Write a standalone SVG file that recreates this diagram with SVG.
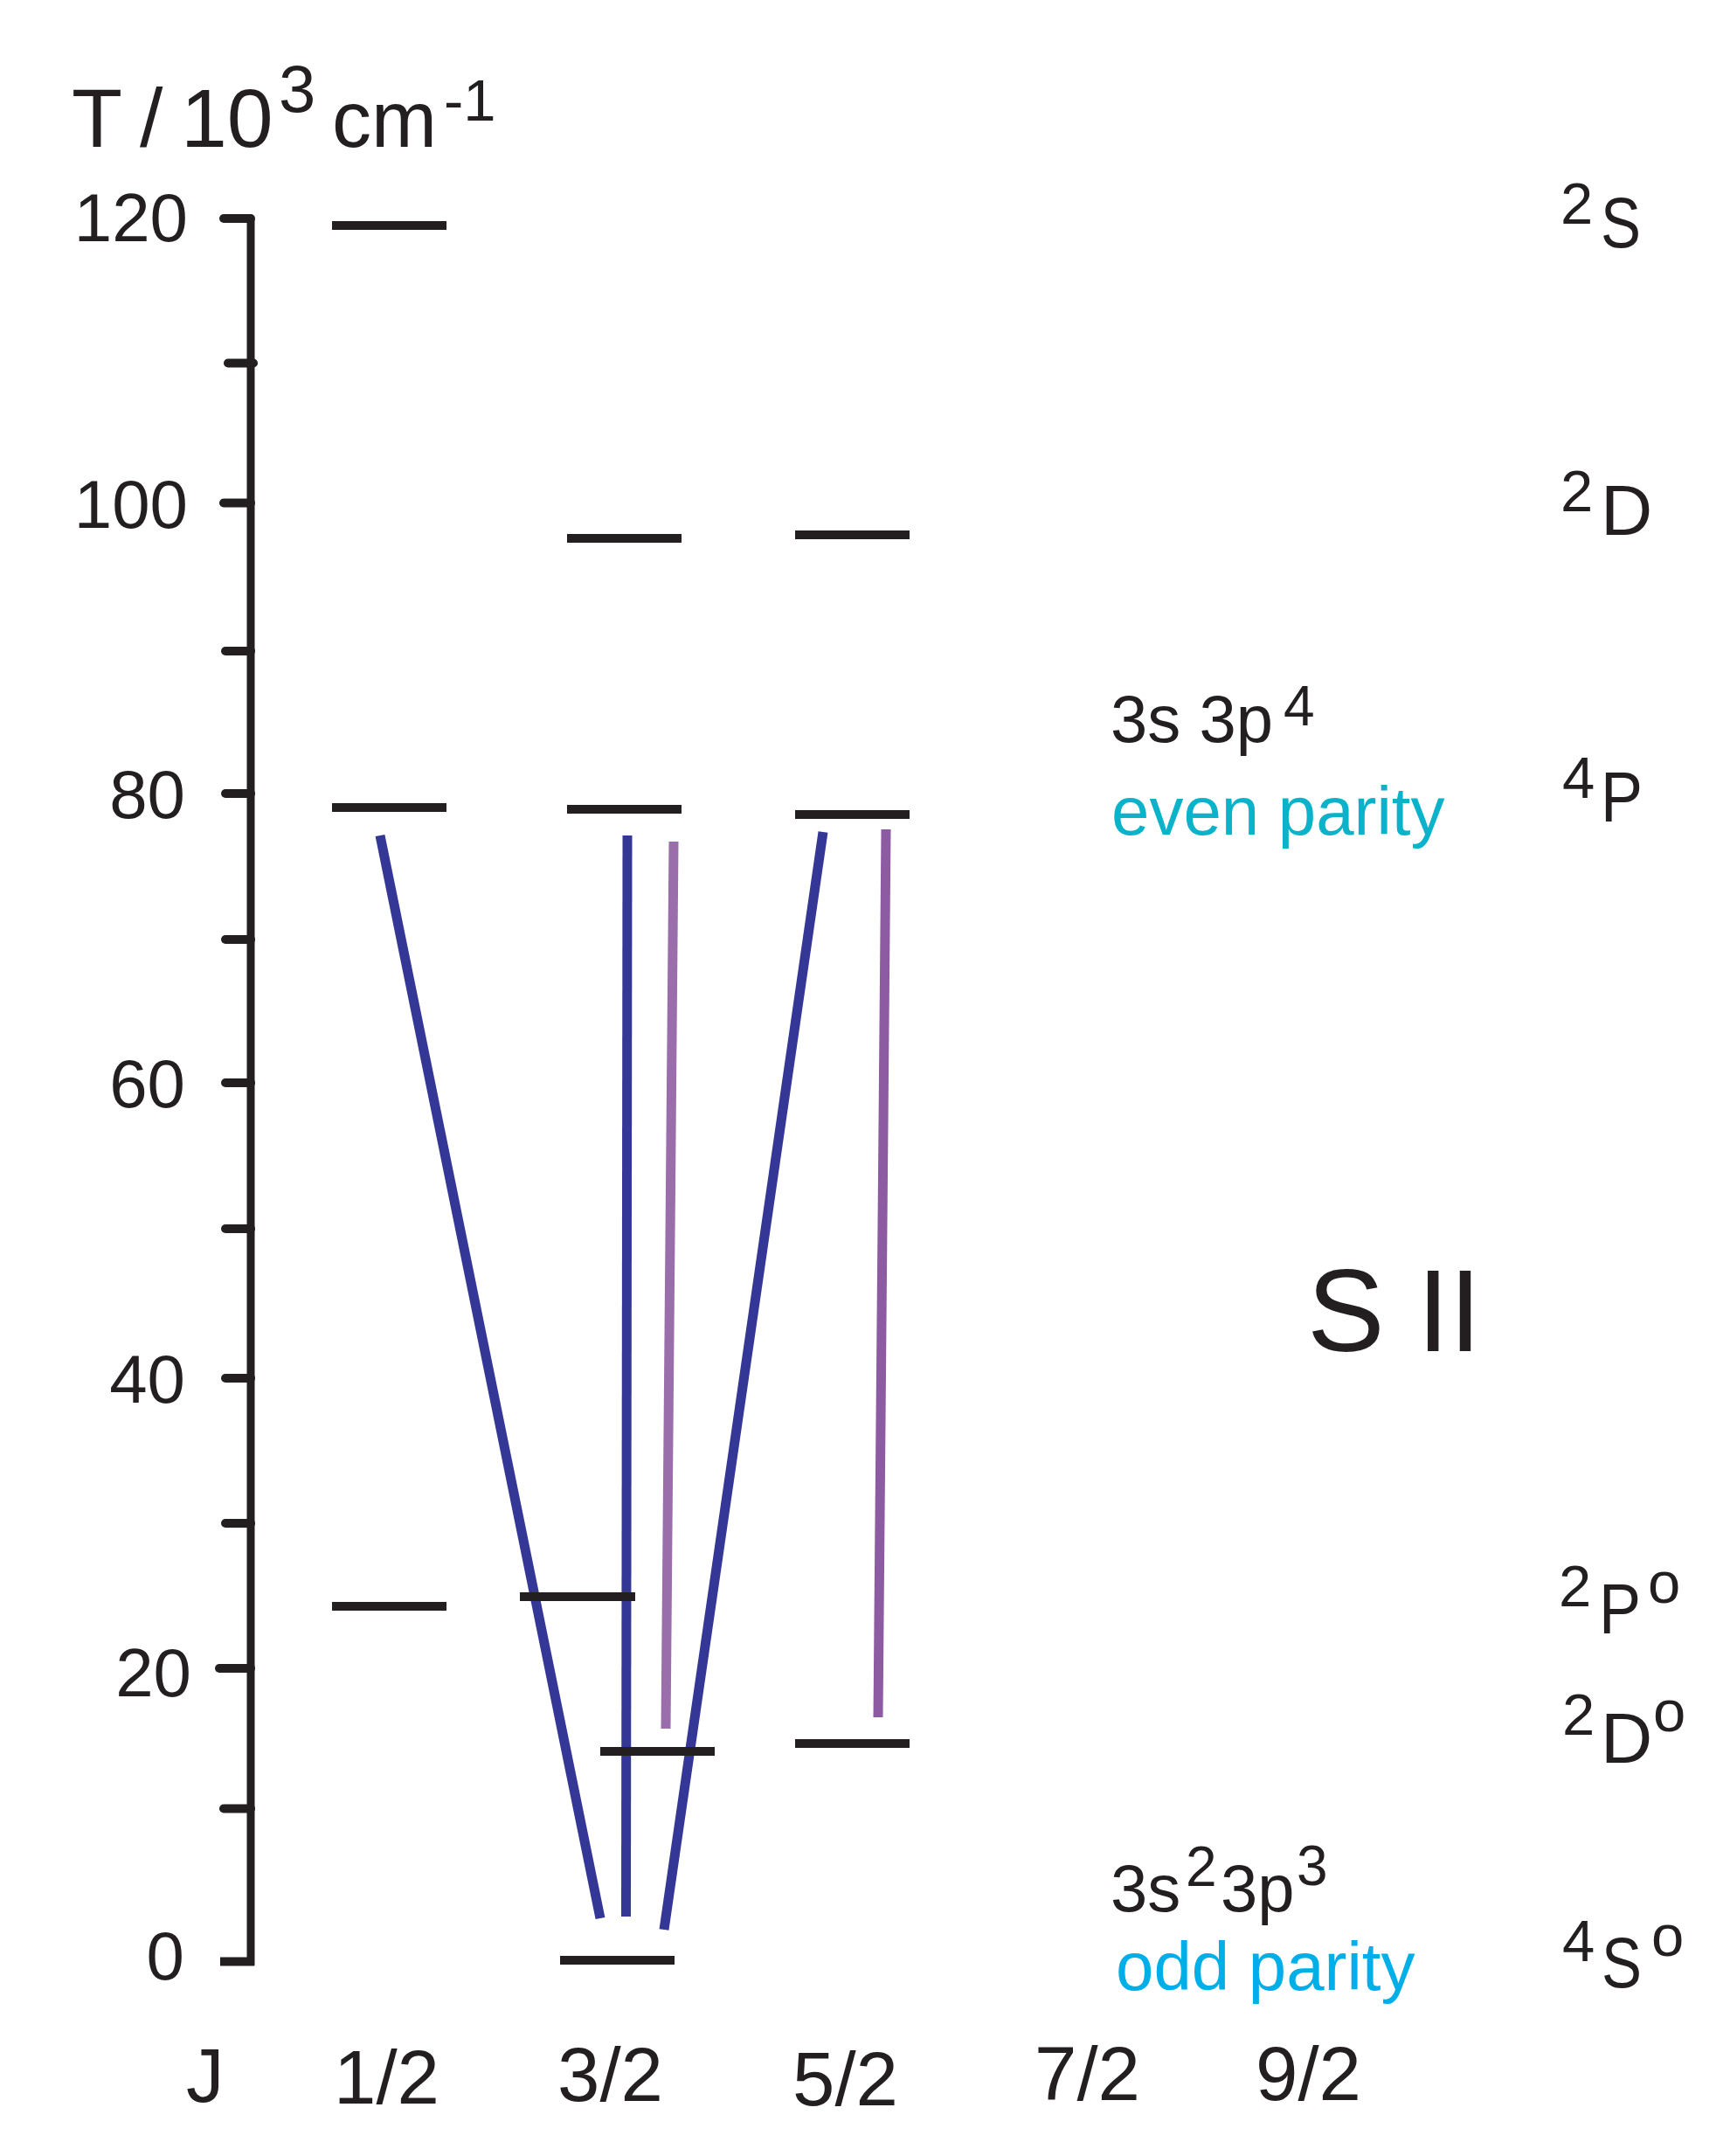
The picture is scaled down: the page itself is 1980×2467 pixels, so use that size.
<svg xmlns="http://www.w3.org/2000/svg" width="1980" height="2467" viewBox="0 0 1980 2467">
<style>
text{font-family:"Liberation Sans",Arial,Helvetica,sans-serif;fill:#231f20}
.tl{font-size:78px;text-anchor:end}
.j{font-size:87px}
.lvl{stroke:#231f20;stroke-width:10;fill:none}
.ax{stroke:#231f20;stroke-width:9;fill:none}
.tk{stroke:#231f20;stroke-width:10;stroke-linecap:round}
.blue{stroke:#343796;stroke-width:11;fill:none}
.pl{stroke:#9a6dab;stroke-width:11;fill:none}
.pd{stroke:#8d5ba1;stroke-width:11;fill:none}
.big{font-size:82px}
.sup{font-size:67px}
.cfg{font-size:76px}
.cfgs{font-size:64px}
</style>
<rect width="1980" height="2467" fill="#ffffff"/>
<g id="axis-title">
<text x="82" y="168" font-size="95">T</text>
<text x="160" y="168" font-size="95">/</text>
<text x="207" y="168" font-size="95">10</text>
<text x="319" y="128" font-size="76">3</text>
<text x="380" y="168" font-size="90">cm</text>
<text x="508" y="138" font-size="67">-1</text>
</g>
<g id="axis">
<path class="ax" d="M287 250 L287 2249"/>
<line class="tk" x1="256" y1="250" x2="287" y2="250"/>
<line class="tk" x1="261" y1="415.5" x2="290" y2="415.5"/>
<line class="tk" x1="256" y1="575.5" x2="287" y2="575.5"/>
<line class="tk" x1="258" y1="745" x2="287" y2="745"/>
<line class="tk" x1="258" y1="908" x2="287" y2="908"/>
<line class="tk" x1="258" y1="1075" x2="287" y2="1075"/>
<line class="tk" x1="258" y1="1239" x2="287" y2="1239"/>
<line class="tk" x1="258" y1="1406" x2="287" y2="1406"/>
<line class="tk" x1="258" y1="1577" x2="287" y2="1577"/>
<line class="tk" x1="258" y1="1743" x2="287" y2="1743"/>
<line class="tk" x1="251" y1="1909" x2="287" y2="1909"/>
<line class="tk" x1="256" y1="2069.5" x2="287" y2="2069.5"/>
<line stroke="#231f20" stroke-width="10" x1="252" y1="2244.5" x2="291" y2="2244.5"/>
<text class="tl" x="215" y="276">120</text>
<text class="tl" x="215" y="604">100</text>
<text class="tl" x="212" y="936">80</text>
<text class="tl" x="212" y="1267">60</text>
<text class="tl" x="212" y="1605">40</text>
<text class="tl" x="219" y="1941">20</text>
<text class="tl" x="211" y="2265">0</text>
</g>
<g id="j-labels">
<text class="j" x="213" y="2405">J</text>
<text class="j" x="382" y="2407">1/2</text>
<text class="j" x="638" y="2404">3/2</text>
<text class="j" x="907" y="2409">5/2</text>
<text class="j" x="1184" y="2403">7/2</text>
<text class="j" x="1437" y="2403">9/2</text>
</g>
<g id="transitions">
<line class="blue" x1="435" y1="956" x2="687" y2="2195"/>
<line class="blue" x1="718" y1="956" x2="716.5" y2="2193"/>
<line class="blue" x1="942" y1="952" x2="760" y2="2208"/>
<line class="pl" x1="771" y1="963" x2="762" y2="1978"/>
<line class="pd" x1="1014" y1="949" x2="1005" y2="1965"/>
</g>
<g id="level-2S-J1_2"><line class="lvl" x1="380" y1="258" x2="511" y2="258"/></g>
<g id="level-4P-J1_2"><line class="lvl" x1="380" y1="924" x2="511" y2="924"/></g>
<g id="level-2Po-J1_2"><line class="lvl" x1="380" y1="1838" x2="511" y2="1838"/></g>
<g id="level-2D-J3_2"><line class="lvl" x1="649" y1="616" x2="780" y2="616"/></g>
<g id="level-4P-J3_2"><line class="lvl" x1="649" y1="926" x2="780" y2="926"/></g>
<g id="level-2Po-J3_2"><line class="lvl" x1="595" y1="1827" x2="727" y2="1827"/></g>
<g id="level-2Do-J3_2"><line class="lvl" x1="687" y1="2004" x2="818" y2="2004"/></g>
<g id="level-4So-J3_2"><line class="lvl" x1="641" y1="2243" x2="772" y2="2243"/></g>
<g id="level-2D-J5_2"><line class="lvl" x1="910" y1="612" x2="1041" y2="612"/></g>
<g id="level-4P-J5_2"><line class="lvl" x1="910" y1="932" x2="1041" y2="932"/></g>
<g id="level-2Do-J5_2"><line class="lvl" x1="910" y1="1995" x2="1041" y2="1995"/></g>
<g id="term-2S"><text class="sup" x="1786" y="256">2</text><text class="big" x="1832" y="283" textLength="46" lengthAdjust="spacingAndGlyphs">S</text></g>
<g id="term-2D"><text class="sup" x="1786" y="585">2</text><text class="big" x="1832" y="612">D</text></g>
<g id="term-4P"><text class="sup" x="1788" y="913">4</text><text class="big" x="1832" y="940" textLength="48" lengthAdjust="spacingAndGlyphs">P</text></g>
<g id="term-2Po"><text class="sup" x="1784" y="1838">2</text><text class="big" x="1830" y="1869" textLength="48" lengthAdjust="spacingAndGlyphs">P</text><text class="sup" x="1886" y="1834">o</text></g>
<g id="term-2Do"><text class="sup" x="1788" y="1985">2</text><text class="big" x="1832" y="2017">D</text><text class="sup" x="1892" y="1981">o</text></g>
<g id="term-4So"><text class="sup" x="1788" y="2244">4</text><text class="big" x="1833" y="2274" textLength="46" lengthAdjust="spacingAndGlyphs">S</text><text class="sup" x="1890" y="2238">o</text></g>
<g id="config-even">
<text class="cfg" x="1271" y="849">3s 3p</text>
<text class="cfgs" x="1469" y="830">4</text>
<text x="1272" y="955" font-size="78" style="fill:#0ab3c9">even parity</text>
</g>
<g id="config-odd">
<text class="cfg" x="1271" y="2187">3s</text>
<text class="cfgs" x="1357" y="2158">2</text>
<text class="cfg" x="1397" y="2187">3p</text>
<text class="cfgs" x="1484" y="2157">3</text>
<text x="1277" y="2277" font-size="78" style="fill:#00aee8">odd parity</text>
</g>
<g id="ion-label"><text x="1496" y="1546" font-size="133">S II</text></g>
</svg>
